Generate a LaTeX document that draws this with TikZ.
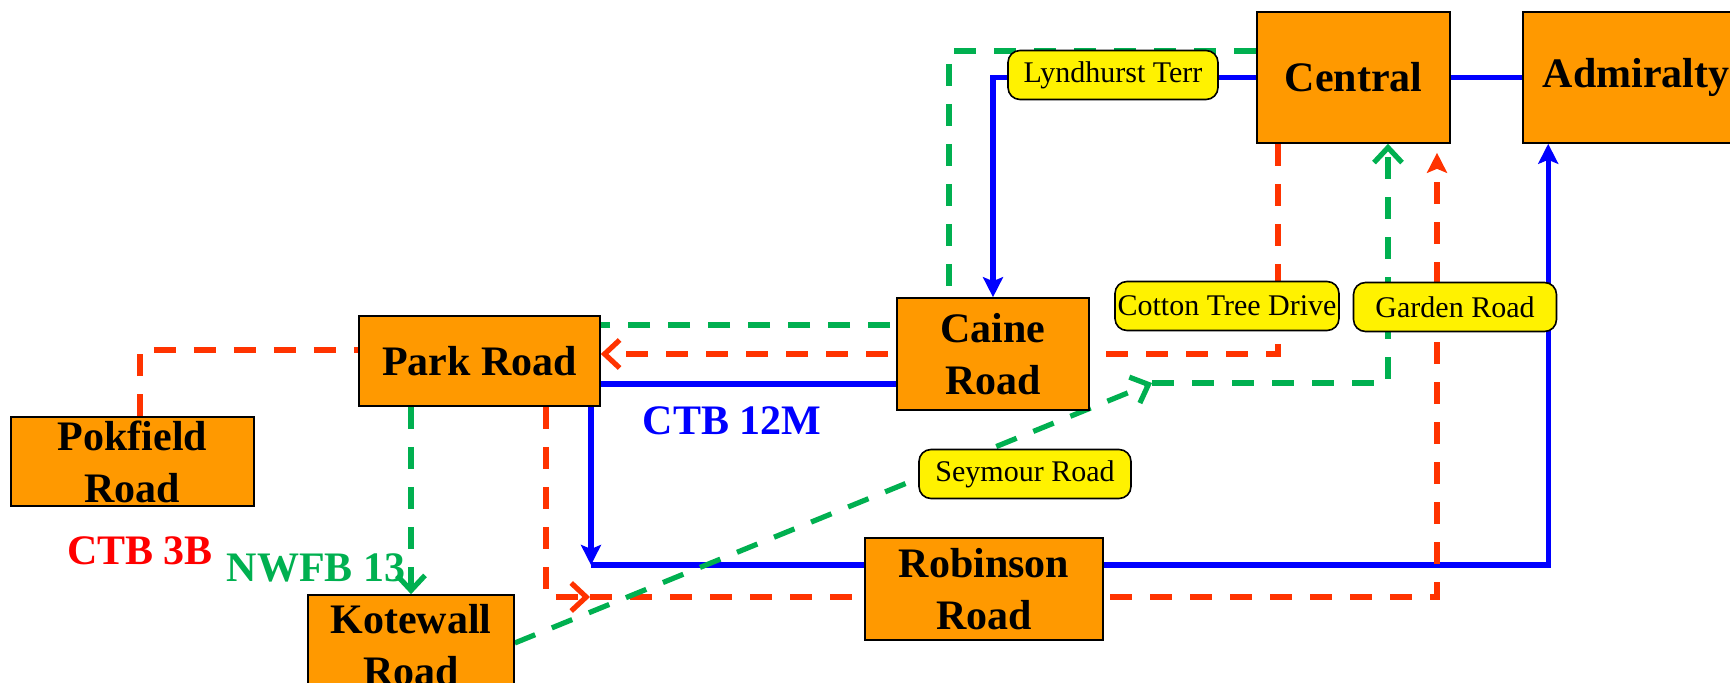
\documentclass[tikz,border=0pt]{standalone}
\usepackage{fontspec}
\setmainfont{Liberation Serif}
\usetikzlibrary{arrows.meta}
\pgfdeclarelayer{background}
\pgfsetlayers{background,main}

\definecolor{stoporange}{RGB}{255,153,0}
\definecolor{ctbblue}{RGB}{0,0,255}
\definecolor{ctbred}{RGB}{255,51,0}
\definecolor{nwfbgreen}{RGB}{0,176,80}

\begin{document}
\begin{tikzpicture}[
    x=0.5pt, y=-0.5pt,
    stop node/.style={rectangle, draw=black, line width=0.8pt, fill=stoporange, inner sep=0pt, align=center, font=\bfseries\fontsize{21}{26}\selectfont},
    road label/.style={rectangle, rounded corners=6pt, draw=black, line width=0.8pt, fill=yellow, inner sep=0pt, minimum height=24.5pt, font=\fontsize{15}{18}\selectfont},
    route text/.style={font=\bfseries\fontsize{21}{24}\selectfont},
    bus12 edge/.style={line width=2.6pt, draw=ctbblue},
    bus3b edge/.style={line width=2.6pt, draw=ctbred, dash pattern=on 11pt off 9pt},
    bus13 edge/.style={line width=2.6pt, draw=nwfbgreen, dash pattern=on 11pt off 9pt},
    fill tip/.style={-{Stealth[length=10pt, width=10pt, inset=2pt]}},
    barb tip/.style={-{Straight Barb[length=7.5pt, width=14pt]}}
]
\useasboundingbox (0,0) rectangle (1730,683);

% 车站
\node[stop node, minimum width=96.5pt, minimum height=65.5pt] (central)   at (1353.5, 77.5) {Central};
\node[stop node, minimum width=113pt,  minimum height=65.5pt] (admiralty) at (1636,   77.5) {Admiralty};
\node[stop node, minimum width=96pt,   minimum height=56pt]   (caine)     at (993,   354)   {Caine\\Road};
\node[stop node, minimum width=120.5pt,minimum height=45pt]   (park)      at (479.5, 361)   {Park Road};
\node[stop node, minimum width=121.5pt,minimum height=44.5pt] (pokfield)  at (132.5, 461.5) {Pokfield\\Road};
\node[stop node, minimum width=119pt,  minimum height=51pt]   (robinson)  at (984,   589)   {Robinson\\Road};
\node[stop node, minimum width=103pt,  minimum height=50pt]   (kotewall)  at (411,   645)   {Kotewall\\Road};

% 途经道路
\node[road label, minimum width=105pt]   (lyndhurst) at (1113,  75) {Lyndhurst Terr};
\node[road label, minimum width=112pt]   (cotton)    at (1227, 306) {Cotton Tree Drive};
\node[road label, minimum width=101.5pt] (garden)    at (1455, 307) {Garden Road};
\node[road label, minimum width=106pt]   (seymour)   at (1025, 474) {Seymour Road};

% 线路名
\node[route text, text=ctbblue]   (ctb12m) at (732, 421) {CTB 12M};
\node[route text, text=red]       (ctb3b)  at (140, 551) {CTB 3B};
\node[route text, text=nwfbgreen] (nwfb13) at (316, 568) {NWFB 13};

% 转角
\coordinate (b1) at (591, 565);
\coordinate (r1) at (590, 597);
\coordinate (g1) at (949, 325);
\coordinate (g2) at (1152, 383);

\begin{pgfonlayer}{background}
% CTB 12M
\draw[bus12 edge, fill tip] (central.west) -| (caine.north);
\draw[bus12 edge] (central.east) -- (admiralty.west);
\draw[bus12 edge] (park.east |- 0,384) -- (caine.west |- 0,384);
\draw[bus12 edge, fill tip] (park.south -| b1) -- (b1);
\draw[bus12 edge] (b1) -- (robinson.west |- b1);
\draw[bus12 edge, fill tip] (robinson.east |- b1) -| ([xshift=13pt]admiralty.south west);

% CTB 3B
\draw[bus3b edge] (pokfield.north -| 140,0) |- (park.west |- 0,350);
\draw[bus3b edge, barb tip] (central.south -| 1278,0) |- (park.east |- 0,354);
\draw[bus3b edge, barb tip] (park.south -| 546,0) |- (r1);
\draw[bus3b edge, fill tip, shorten >=4.5pt] (r1) -| (central.south -| 1437,0);

% NWFB 13
\draw[bus13 edge] (central.west |- 0,51) -| (g1) -- (park.east |- g1);
\draw[bus13 edge, barb tip] (park.south -| kotewall.north) -- (kotewall.north);
\draw[bus13 edge, barb tip] (kotewall.east |- 0,643) -- (g2);
\draw[bus13 edge, barb tip] (g2) -| (central.south -| 1388,0);
\end{pgfonlayer}

\end{tikzpicture}
\end{document}
